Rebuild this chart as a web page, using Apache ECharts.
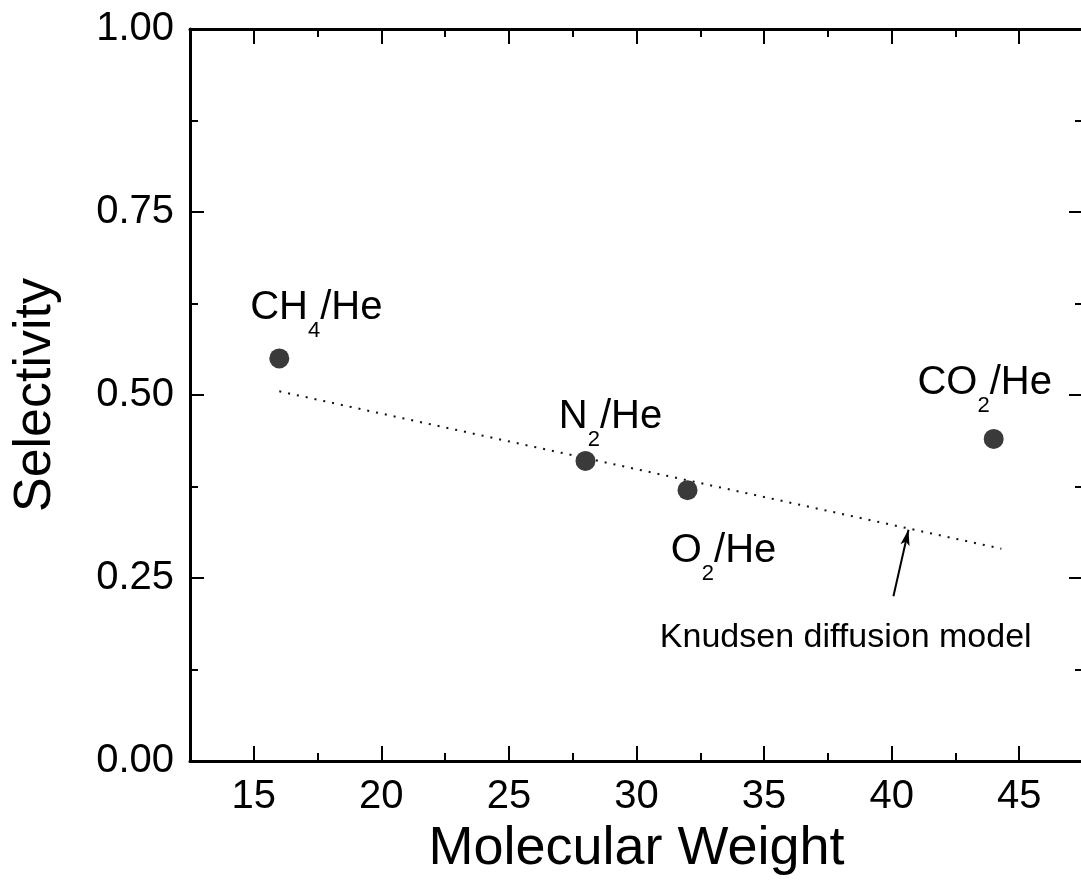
<!DOCTYPE html>
<html>
<head>
<meta charset="utf-8">
<script src="https://cdn.jsdelivr.net/npm/echarts@6/dist/echarts.min.js"></script>
<style>
html,body{margin:0;padding:0;background:#fff;}
#chart{width:1081px;height:894px;}
</style>
</head>
<body>
<div id="chart"></div>
<script>
// ---- data ----
const gasMain = ['CH', 'N', 'O', 'CO'];
const gasSub = ['4', '2', '2', '2'];
const gasTail = ['/He', '/He', '/He', '/He'];
const molecularWeight = [16, 28, 32, 44];
const selectivity = [0.55, 0.41, 0.37, 0.44];
const knudsenX = [16, 44.3];
const knudsenY = [0.505, 0.29];
const xTickLabels = [15, 20, 25, 30, 35, 40, 45];
const yTickLabels = ['0.00', '0.25', '0.50', '0.75', '1.00'];
const annotationText = 'Knudsen diffusion model';
const annotationAt = [38.2, 0.168];
const arrowFrom = [40.07, 0.225];
const arrowTo = [40.66, 0.316];

// ---- layout (pixels) ----
const labelOffsets = [[37, -50], [25, -44], [36, 61], [-9, -56]];
const FONT = "'Liberation Sans', Arial, sans-serif";

const chart = echarts.init(document.getElementById('chart'), null, {renderer: 'canvas'});

const axisLineStyle = {color: '#000', width: 3};
const tickStyle = {color: '#000', width: 2};

const scatterData = molecularWeight.map((x, i) => ({
  value: [x, selectivity[i]],
  label: {
    show: true,
    position: 'inside',
    offset: labelOffsets[i],
    color: '#000',
    opacity: 1,
    textBorderWidth: 0,
    formatter: '{m|' + gasMain[i] + '}{s|' + gasSub[i] + '}{m|' + gasTail[i] + '}',
    rich: {
      m: {fontSize: 40, lineHeight: 40, fontFamily: FONT, color: '#000', opacity: 1},
      s: {fontSize: 22, lineHeight: 22, fontFamily: FONT, color: '#000', opacity: 1, padding: [46, 0, 0, 0]}
    }
  }
}));

const xFmt = v => (xTickLabels.indexOf(Math.round(v * 1000) / 1000) >= 0) ? String(v) : '';
const yFmt = v => {
  const s = v.toFixed(2);
  return yTickLabels.indexOf(s) >= 0 ? s : '';
};

const option = {
  backgroundColor: '#fff',
  animation: false,
  grid: {left: 190, top: 29, width: 893, height: 732, containLabel: false, outerBoundsMode: 'none'},
  xAxis: [
    { // bottom: short ticks + labels + name
      type: 'value', position: 'bottom', min: 12.5, max: 47.5, interval: 2.5,
      axisLine: {show: true, onZero: false, lineStyle: axisLineStyle},
      axisTick: {show: true, inside: true, length: 8, lineStyle: tickStyle},
      axisLabel: {show: true, formatter: xFmt, fontSize: 40, fontFamily: FONT, color: '#000', margin: 16},
      splitLine: {show: false},
      name: 'Molecular Weight', nameLocation: 'middle', nameGap: 55,
      nameTextStyle: {fontSize: 54, fontFamily: FONT, color: '#000'}
    },
    { // bottom: long ticks
      type: 'value', position: 'bottom', min: 12.5, max: 47.5, splitNumber: 7,
      axisLine: {show: false, onZero: false},
      axisTick: {show: true, inside: true, length: 15, lineStyle: tickStyle},
      axisLabel: {show: false}, splitLine: {show: false}
    },
    { // top: short ticks
      type: 'value', position: 'top', min: 12.5, max: 47.5, interval: 2.5,
      axisLine: {show: true, onZero: false, lineStyle: axisLineStyle},
      axisTick: {show: true, inside: true, length: 8, lineStyle: tickStyle},
      axisLabel: {show: false}, splitLine: {show: false}
    },
    { // top: long ticks
      type: 'value', position: 'top', min: 12.5, max: 47.5, splitNumber: 7,
      axisLine: {show: false, onZero: false},
      axisTick: {show: true, inside: true, length: 15, lineStyle: tickStyle},
      axisLabel: {show: false}, splitLine: {show: false}
    }
  ],
  yAxis: [
    {
      type: 'value', position: 'left', min: 0, max: 1, interval: 0.25,
      axisLine: {show: true, onZero: false, lineStyle: axisLineStyle},
      axisTick: {show: true, inside: true, length: 14, lineStyle: tickStyle},
      minorTick: {show: true, splitNumber: 2, length: 8, lineStyle: tickStyle},
      axisLabel: {show: true, formatter: yFmt, fontSize: 40, fontFamily: FONT, color: '#000', margin: 16},
      splitLine: {show: false}, minorSplitLine: {show: false},
      name: 'Selectivity', nameLocation: 'middle', nameGap: 128, nameRotate: 90,
      nameTextStyle: {fontSize: 52, fontFamily: FONT, color: '#000'}
    },
    {
      type: 'value', position: 'right', min: 0, max: 1, interval: 0.25,
      axisLine: {show: true, onZero: false, lineStyle: axisLineStyle},
      axisTick: {show: true, inside: true, length: 14, lineStyle: tickStyle},
      minorTick: {show: true, splitNumber: 2, length: 8, lineStyle: tickStyle},
      axisLabel: {show: false}, splitLine: {show: false}, minorSplitLine: {show: false}
    }
  ],
  series: [
    {
      type: 'line',
      xAxisIndex: 0, yAxisIndex: 0,
      data: knudsenX.map((x, i) => [x, knudsenY[i]]),
      showSymbol: false, symbol: 'none',
      lineStyle: {color: '#111', width: 2, type: [2, 7]},
      z: 2,
      markLine: {
        silent: true,
        symbol: ['none', 'arrow'],
        symbolSize: 14,
        lineStyle: {color: '#000', width: 2, type: 'solid'},
        label: {show: false},
        data: [[
          {coord: arrowFrom, symbol: 'none'},
          {coord: arrowTo, symbol: 'arrow', symbolSize: [7, 16]}
        ]]
      },
      markPoint: {
        silent: true,
        symbol: 'circle', symbolSize: 0,
        label: {show: true, position: 'inside', formatter: annotationText,
          fontSize: 34, fontFamily: FONT, color: '#000'},
        data: [{coord: annotationAt}]
      }
    },
    {
      type: 'scatter',
      xAxisIndex: 0, yAxisIndex: 0,
      symbol: 'circle', symbolSize: 20,
      itemStyle: {color: '#3a3a3a', opacity: 1},
      data: scatterData,
      z: 3
    }
  ]
};
chart.setOption(option);
</script>
</body>
</html>
